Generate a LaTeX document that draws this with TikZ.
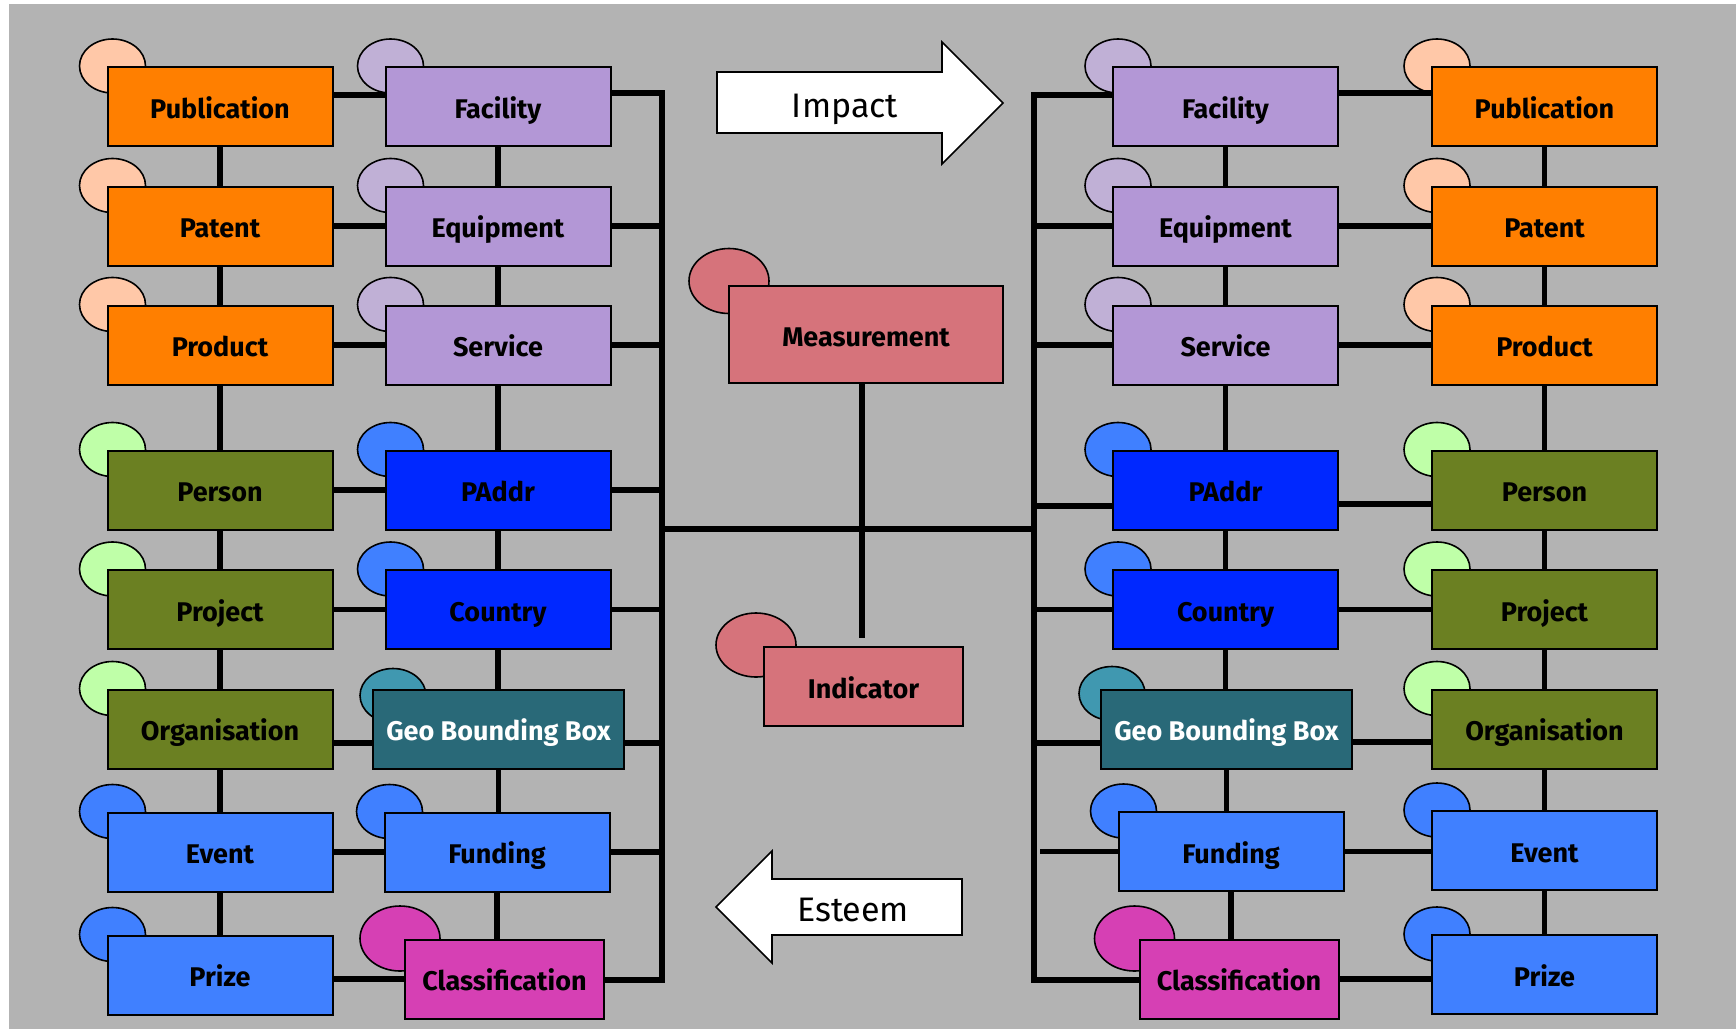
\documentclass[tikz,border=0pt]{standalone}
\usepackage{fontspec}
\setmainfont{Fira Sans}
\usepackage{xcolor}
\usepackage{tikz}
\usetikzlibrary{backgrounds,calc}

\definecolor{bggray}{RGB}{179,179,179}
\definecolor{orangebox}{RGB}{255,127,0}
\definecolor{peach}{RGB}{255,200,168}
\definecolor{lilac}{RGB}{179,151,214}
\definecolor{lilaclight}{RGB}{192,176,214}
\definecolor{olivebox}{RGB}{107,128,34}
\definecolor{mint}{RGB}{191,255,168}
\definecolor{royal}{RGB}{0,40,255}
\definecolor{sky}{RGB}{64,128,255}
\definecolor{geoteal}{RGB}{41,105,120}
\definecolor{geotealight}{RGB}{64,152,176}
\definecolor{classpink}{RGB}{214,64,180}
\definecolor{rose}{RGB}{214,115,123}

\begin{document}
\begin{tikzpicture}[
    x=0.5pt, y=-0.5pt,
    box/.style={rectangle,draw,line width=1pt,minimum width=112.5pt,minimum height=39.5pt,
      inner sep=0pt,text height=1.15em,text depth=0pt,font=\fontsize{13.5}{16}\selectfont\bfseries},
    outbox/.style={box,fill=orangebox},
    facbox/.style={box,fill=lilac},
    agentbox/.style={box,fill=olivebox},
    placebox/.style={box,fill=royal},
    geobox/.style={box,fill=geoteal,text=white,minimum width=125.5pt},
    skybox/.style={box,fill=sky},
    classbox/.style={box,fill=classpink,minimum width=99.5pt},
    metricbox/.style={box,fill=rose},
    tab/.style={draw,line width=0.8pt},
    link/.style={line width=2.6pt},
    flow/.style={draw,fill=white,line width=0.8pt},
    flowtext/.style={inner sep=0pt,text height=1.34em,text depth=0pt,font=\fontsize{17}{20}\selectfont}]
    \useasboundingbox (0,0) rectangle (1736,1029);

    % boxes
    \foreach \name/\txt/\x/\y/\kind in {
        pubL/Publication/220/106.5/outbox, patL/Patent/220/226/outbox, proL/Product/220/345/outbox,
        perL/Person/220/490/agentbox, prjL/Project/220/609.5/agentbox, orgL/Organisation/220/729/agentbox,
        evtL/Event/220/852/skybox, przL/Prize/220/975/skybox,
        facL/Facility/498/106.5/facbox, equL/Equipment/498/226/facbox, serL/Service/498/345/facbox,
        padL/PAddr/498/490/placebox, couL/Country/498/609.5/placebox, geoL/Geo Bounding Box/498.5/729/geobox,
        funL/Funding/497/852/skybox, clasL/Classification/504.5/979/classbox,
        facR/Facility/1225.5/106.5/facbox, equR/Equipment/1225.5/226/facbox, serR/Service/1225.5/345/facbox,
        padR/PAddr/1225.5/490/placebox, couR/Country/1225.5/609.5/placebox, geoR/Geo Bounding Box/1226.5/729/geobox,
        funR/Funding/1231/851.5/skybox, clasR/Classification/1239/979/classbox,
        pubR/Publication/1544.5/106.5/outbox, patR/Patent/1544.5/226/outbox, proR/Product/1544.5/345/outbox,
        perR/Person/1544.5/490/agentbox, prjR/Project/1544.5/609.5/agentbox, orgR/Organisation/1544.5/729/agentbox,
        evtR/Event/1544.5/850.5/skybox, przR/Prize/1544.5/974.5/skybox} {
      \node[\kind] (\name) at (\x,\y) {\txt};
    }
    \node[metricbox,minimum width=137pt,minimum height=48.5pt] (meas) at (866,334.5) {Measurement};
    \node[metricbox,minimum width=99.5pt] (ind) at (863.5,686.5) {Indicator};

    % tabs behind the boxes
    \begin{scope}[on background layer]
      \fill[bggray] (9,4) rectangle (1736,1029);
      \foreach \name/\tint in {pubL/peach,patL/peach,proL/peach,perL/mint,prjL/mint,orgL/mint,
          evtL/sky,przL/sky,facL/lilaclight,equL/lilaclight,serL/lilaclight,padL/sky,couL/sky,funL/sky,
          facR/lilaclight,equR/lilaclight,serR/lilaclight,padR/sky,couR/sky,funR/sky,
          pubR/peach,patR/peach,proR/peach,perR/mint,prjR/mint,orgR/mint,evtR/sky,przR/sky} {
        \draw[tab,fill=\tint] ([xshift=3pt]\name.north west) ellipse [x radius=16.5pt,y radius=13.5pt];
      }
      \draw[tab,fill=geotealight] ([xshift=10.5pt,yshift=-3.5pt]geoL.north west) ellipse [x radius=16.5pt,y radius=13.5pt];
      \draw[tab,fill=geotealight] ([xshift=6pt,yshift=-2.5pt]geoR.north west) ellipse [x radius=16.5pt,y radius=13.5pt];
      \draw[tab,fill=classpink] ([xshift=-2pt]clasL.north west) ellipse [x radius=20pt,y radius=16.25pt];
      \draw[tab,fill=classpink] ([xshift=-2pt]clasR.north west) ellipse [x radius=20pt,y radius=16.25pt];
      \draw[tab,fill=rose] ([xshift=0.5pt,yshift=2pt]meas.north west) ellipse [x radius=20pt,y radius=16.25pt];
      \draw[tab,fill=rose] ([xshift=-3.5pt,yshift=0.5pt]ind.north west) ellipse [x radius=20pt,y radius=16pt];
    \end{scope}

    % column links
    \foreach \a/\b in {pubL/patL,patL/proL,proL/perL,perL/prjL,prjL/orgL,orgL/evtL,evtL/przL,
        facL/equL,equL/serL,serL/padL,padL/couL,couL/geoL,geoL/funL,funL/clasL,
        facR/equR,equR/serR,serR/padR,padR/couR,couR/geoR,geoR/funR,funR/clasR,
        pubR/patR,patR/proR,proR/perR,perR/prjR,prjR/orgR,orgR/evtR,evtR/przR} {
      \draw[link] (\a.south) -- (\a.south |- \b.north);
    }

    % row links
    \foreach \a/\b in {patL/equL,proL/serL,perL/padL,prjL/couL,evtL/funL,
        equR/patR,serR/proR,couR/prjR,funR/evtR} {
      \draw[link] (\a.east) -- (\a.east -| \b.west);
    }
    \draw[link] ([yshift=5.75pt]pubL.east) -- ([yshift=5.75pt]pubL.east -| facL.west);
    \draw[link] ([yshift=-7pt]orgL.east) -- ([yshift=-7pt]orgL.east -| geoL.west);
    \draw[link] (clasL.west) -- (clasL.west -| przL.east);
    \draw[link] ([yshift=6.75pt]facR.east) -- ([yshift=6.75pt]facR.east -| pubR.west);
    \draw[link] ([yshift=-7pt]padR.east) -- ([yshift=-7pt]padR.east -| perR.west);
    \draw[link] ([yshift=-6.5pt]geoR.east) -- ([yshift=-6.5pt]geoR.east -| orgR.west);
    \draw[link] (clasR.east) -- (clasR.east -| przR.west);

    % buses
    \coordinate (busL) at (662,980);
    \coordinate (busR) at (1034,980);
    \coordinate (hubL) at (662,529);
    \coordinate (hubR) at (1034,529);
    \draw[link] ([yshift=6.75pt]facL.east) -| (busL) -- (busL -| clasL.east);
    \foreach \n in {equL,serL,padL,couL,funL} {
      \draw[link] (\n.east) -- (\n.east -| busL);
    }
    \draw[link] ([yshift=-7pt]geoL.east) -- ([yshift=-7pt]geoL.east -| busL);
    \draw[link] ([yshift=5.75pt]facR.west) -| (busR) -- (busR -| clasR.west);
    \foreach \n in {equR,serR,couR} {
      \draw[link] (\n.west) -- (\n.west -| busR);
    }
    \draw[link] ([yshift=-8pt]padR.west) -- ([yshift=-8pt]padR.west -| busR);
    \draw[link] ([yshift=-7pt]geoR.west) -- ([yshift=-7pt]geoR.west -| busR);
    \draw[link] (funR.west) -- ([xshift=3pt]funR.west -| busR);
    \draw[link] (hubL) -- (hubR);
    \draw[link,shorten >=4pt] ([xshift=-2pt]meas.south) -- ([xshift=-2pt]meas.south |- ind.north);

    % impact and esteem
    \draw[flow] (717,72) -- (942,72) -- (942,42) -- (1003,103) -- (942,164) -- (942,133) -- (717,133) -- cycle;
    \node[flowtext] (impact) at (845,104) {Impact};
    \draw[flow] (962,879) -- (772,879) -- (772,851) -- (716,907) -- (772,963) -- (772,935) -- (962,935) -- cycle;
    \node[flowtext] (esteem) at (853,908) {Esteem};
\end{tikzpicture}
\end{document}
